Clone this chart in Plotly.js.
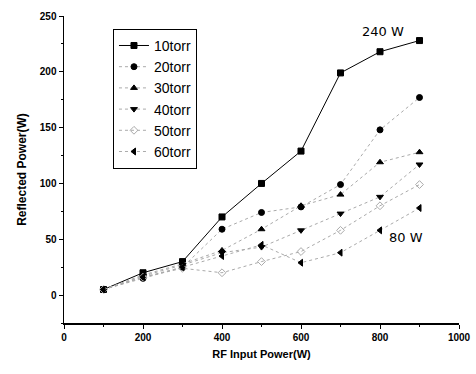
<!DOCTYPE html>
<html><head><meta charset="utf-8">
<script src="https://cdn.plot.ly/plotly-3.0.1.min.js"></script>
<style>body{margin:0;background:#fff}#c{width:476px;height:374px}</style>
</head><body><div id="c"></div>
<script>
const power = [100, 200, 300, 400, 500, 600, 700, 800, 900];
const names = ['10torr', '20torr', '30torr', '40torr', '50torr', '60torr'];
const r10 = [5, 20, 30, 70, 100, 129, 199, 218, 228];
const r20 = [5, 15, 25, 59, 74, 79, 99, 148, 177];
const r30 = [5, 18, 28, 40, 59, 80, 90, 119, 128];
const r40 = [5, 17, 27, 38, 43, 58, 73, 88, 117];
const r50 = [5, 16, 24, 20, 30, 39, 58, 80, 99];
const r60 = [5, 16, 25, 35, 45, 29, 38, 58, 78];
const series = [r10, r20, r30, r40, r50, r60];
const symbols = ['square', 'circle', 'triangle-up', 'triangle-down', 'diamond-open', 'triangle-left'];
const colors = ['#000', '#000', '#000', '#000', '#aaa', '#000'];
const dashes = ['solid', 'dot', 'dot', 'dot', 'dot', 'dot'];
const annText = ['240 W', '80 W'];
const annX = [808, 865];
const annY = [236, 52];

const traces = series.map((v, i) => ({
  x: power, y: v, name: names[i], type: 'scatter', mode: 'lines+markers',
  line: {color: i === 0 ? '#000' : '#aaa', width: 1, dash: dashes[i]},
  marker: {symbol: symbols[i], size: 6, color: colors[i], line: {color: colors[i], width: 1}}
}));

const f = {family: 'Liberation Sans, Arial, sans-serif', color: '#000'};
Plotly.newPlot('c', traces, {
  width: 476, height: 374,
  margin: {l: 64, r: 17, t: 16, b: 51},
  paper_bgcolor: '#fff', plot_bgcolor: '#fff',
  showlegend: true,
  legend: {x: 0.124, y: 0.958, xanchor: 'left', yanchor: 'top', bgcolor: '#fff',
    bordercolor: '#000', borderwidth: 1, font: {...f, size: 14}, tracegroupgap: 0},
  xaxis: {range: [0, 1000], dtick: 200, showgrid: false, zeroline: false, showline: true,
    linecolor: '#000', linewidth: 2, ticks: 'outside', ticklen: 4, tickcolor: '#000',
    minor: {dtick: 100, ticks: 'outside', ticklen: 2, tickcolor: '#000'},
    tickfont: {...f, size: 10, weight: 'bold'},
    title: {text: 'RF Input Power(W)', font: {...f, size: 11, weight: 'bold'}, standoff: 8}},
  yaxis: {range: [-25, 250], dtick: 50, showgrid: false, zeroline: false, showline: true,
    linecolor: '#000', linewidth: 1.5, ticks: 'outside', ticklen: 4, tickcolor: '#000',
    minor: {dtick: 25, ticks: 'outside', ticklen: 2, tickcolor: '#000'},
    tickfont: {...f, size: 10, weight: 'bold'},
    title: {text: 'Reflected Power(W)', font: {...f, size: 12, weight: 'bold'}, standoff: 10}},
  annotations: annText.map((t, i) => ({x: annX[i], y: annY[i], text: t, showarrow: false,
    font: {family: 'DejaVu Sans, sans-serif', size: 13, color: '#000'}}))
}, {staticPlot: true});
</script></body></html>
